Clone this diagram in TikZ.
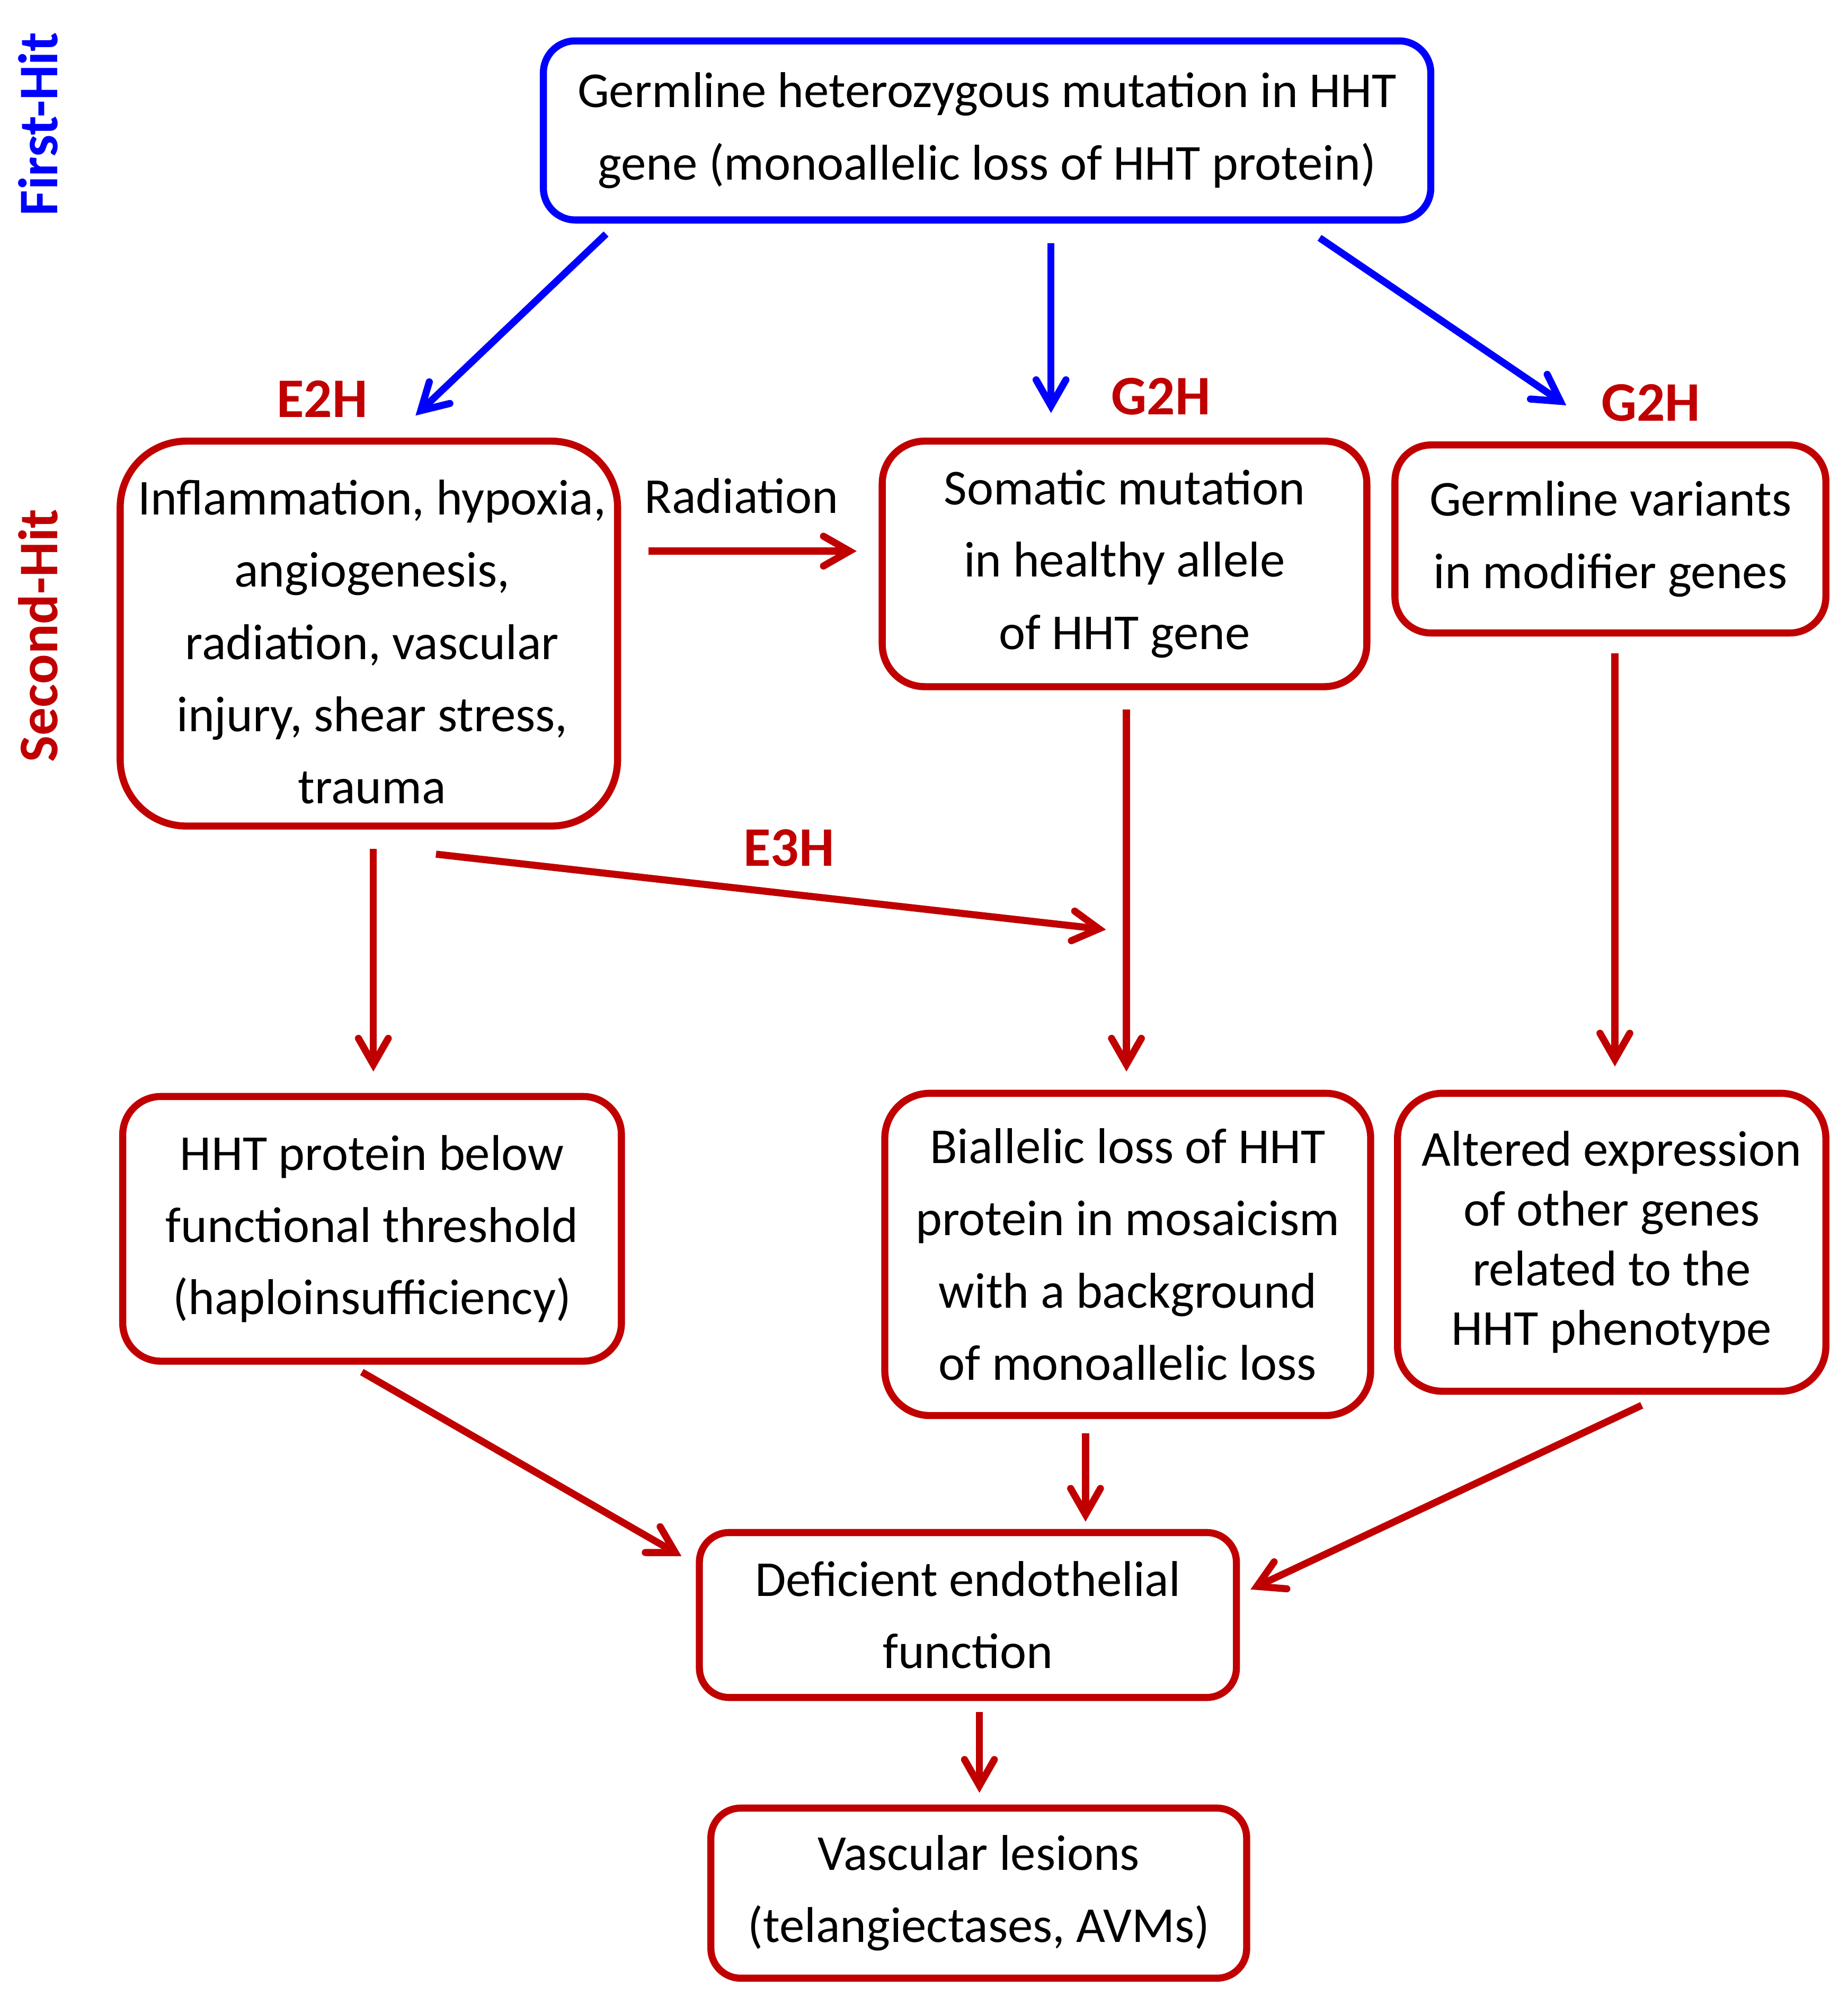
\documentclass[tikz,border=0pt]{standalone}
\usepackage{fontspec}
\setmainfont{Carlito}
\usetikzlibrary{arrows.meta}
\definecolor{hred}{RGB}{192,0,0}
\definecolor{hblue}{RGB}{0,0,255}
\begin{document}
\begin{tikzpicture}[x=0.02414cm, y=-0.02414cm,
  box/.style={draw=hred, line width=3.8pt, align=center, inner sep=0pt,
    font=\fontsize{27}{38.8}\selectfont},
  txt/.style={align=center, inner sep=0pt, font=\fontsize{27}{38.8}\selectfont},
  lab/.style={text=hred, font=\bfseries\fontsize{30}{36}\selectfont, inner sep=0pt},
  arr/.style={draw=hred, line width=3.8pt, line cap=butt,
    -{Straight Barb[length=14pt, width=16pt, line cap=round]}},
  barr/.style={arr, draw=hblue},
]
\useasboundingbox (0,0) rectangle (1445,1568);

% side labels
\node[lab, text=hblue, rotate=90] (first) at (30,97) {First-Hit};
\node[lab, rotate=90] (second) at (30,497) {Second-Hit};

% boxes
\node[box, draw=hblue, minimum width=16.753cm, minimum height=3.380cm, rounded corners=0.60cm]
  (top) at (772,102) {Germline heterozygous mutation in HHT\\gene (monoallelic loss of HHT protein)};
\node[box, minimum width=9.390cm, minimum height=7.266cm, rounded corners=1.25cm]
  (env) at (288.5,495.5) {};
\node[txt] (envt) at (291,502) {Inflammation, hypoxia,\\angiogenesis,\\radiation, vascular\\injury, shear stress,\\trauma};
\node[box, minimum width=9.149cm, minimum height=4.635cm, rounded corners=0.80cm]
  (som) at (879.5,441) {Somatic mutation\\in healthy allele\\of HHT gene};
\node[box, minimum width=8.135cm, minimum height=3.549cm, rounded corners=0.68cm]
  (var) at (1259.5,421.5) {Germline variants\\in modifier genes};
\node[box, minimum width=9.415cm, minimum height=4.997cm, rounded corners=0.72cm]
  (hap) at (291,961) {HHT protein below\\functional threshold\\(haploinsufficiency)};
\node[box, minimum width=9.173cm, minimum height=6.083cm, rounded corners=0.85cm]
  (bi) at (882,981) {Biallelic loss of HHT\\protein in mosaicism\\with a background\\of monoallelic loss};
\node[box, minimum width=8.087cm, minimum height=5.625cm, rounded corners=0.85cm,
  font=\fontsize{27}{32.1}\selectfont]
  (alt) at (1260.5,971.5) {Altered expression\\of other genes\\related to the\\HHT phenotype};
\node[box, minimum width=10.139cm, minimum height=3.114cm, rounded corners=0.56cm]
  (def) at (757,1263) {Deficient endothelial\\function};
\node[box, minimum width=10.115cm, minimum height=3.211cm, rounded corners=0.56cm]
  (vas) at (765.5,1480.5) {Vascular lesions\\(telangiectases, AVMs)};

% labels
\node[lab] (e2h) at (252,312) {E2H};
\node[lab] (g2ha) at (908,310) {G2H};
\node[lab] (g2hb) at (1291,315) {G2H};
\node[lab] (e3h) at (617,663) {E3H};
\node[font=\fontsize{27}{32}\selectfont, inner sep=0pt] (rad) at (580,388) {Radiation};

% connector end points
\coordinate (b1s) at (474,183); \coordinate (b1e) at (325,325);
\coordinate (b2s) at (822,190); \coordinate (b2e) at (822,323);
\coordinate (b3s) at (1032,186); \coordinate (b3e) at (1225,317);
\coordinate (r1s) at (507,431); \coordinate (r1e) at (670,431);
\coordinate (e3s) at (341,668); \coordinate (e3e) at (865,727);
\coordinate (d1s) at (292,664); \coordinate (d1e) at (292,838);
\coordinate (d2s) at (881,555); \coordinate (d2e) at (881,838);
\coordinate (d3s) at (1263,511); \coordinate (d3e) at (1263,834);
\coordinate (f1s) at (283,1073); \coordinate (f1e) at (533,1217);
\coordinate (f2s) at (849,1121); \coordinate (f2e) at (849,1190);
\coordinate (f3s) at (1284,1099); \coordinate (f3e) at (978,1243);
\coordinate (g1s) at (766,1339); \coordinate (g1e) at (766,1402);

% connectors
\draw[barr] (b1s) -- (b1e);
\draw[barr] (b2s) -- (b2e);
\draw[barr] (b3s) -- (b3e);
\draw[arr] (r1s) -- (r1e);
\draw[arr] (e3s) -- (e3e);
\draw[arr] (d1s) -- (d1e);
\draw[arr] (d2s) -- (d2e);
\draw[arr] (d3s) -- (d3e);
\draw[arr] (f1s) -- (f1e);
\draw[arr] (f2s) -- (f2e);
\draw[arr] (f3s) -- (f3e);
\draw[arr] (g1s) -- (g1e);
\end{tikzpicture}
\end{document}
